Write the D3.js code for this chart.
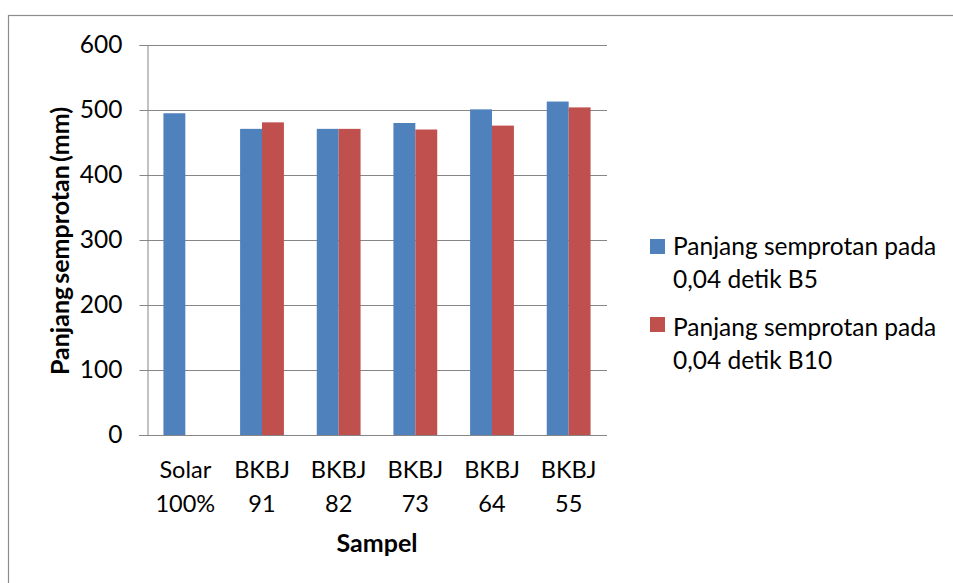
<!DOCTYPE html>
<html>
<head>
<meta charset="utf-8">
<script src="https://cdnjs.cloudflare.com/ajax/libs/d3/7.8.5/d3.min.js"></script>
<style>
  html, body { margin: 0; padding: 0; background: #fff; }
  svg { display: block; }
  text { font-family: Lato, "Open Sans", sans-serif; fill: #000; }
</style>
</head>
<body>
<script>
// Spray length per sample, two injection settings
const categories = [["Solar", "100%"], ["BKBJ", "91"], ["BKBJ", "82"], ["BKBJ", "73"], ["BKBJ", "64"], ["BKBJ", "55"]];
const seriesNames = ["Panjang semprotan pada 0,04 detik B5", "Panjang semprotan pada 0,04 detik B10"];
const legendLines = [["Panjang semprotan pada", "0,04 detik B5"], ["Panjang semprotan pada", "0,04 detik B10"]];
const valuesB5 = [495, 471, 471, 480, 501, 513];
const valuesB10 = [null, 481, 471, 470, 476, 504];
const yTicks = [0, 100, 200, 300, 400, 500, 600];
const colors = ["#4F81BD", "#C0504D"];

const W = 953, H = 583;
const plot = { left: 147, right: 607, top: 45, bottom: 435 };

const svg = d3.select("body").append("svg").attr("width", W).attr("height", H);

// outer chart frame
svg.append("rect")
  .attr("x", 8.5).attr("y", 15.5)
  .attr("width", W + 10).attr("height", H + 10)
  .attr("fill", "none").attr("stroke", "#8c8c8c").attr("stroke-width", 1.2);

const x0 = d3.scaleBand().domain(d3.range(categories.length))
  .range([plot.left, plot.right]).paddingInner(0).paddingOuter(0);
const bw = x0.bandwidth() / 3.5; // 150% gap width
const y = d3.scaleLinear().domain([0, 600]).range([plot.bottom, plot.top]);

// gridlines
svg.append("g").selectAll("line").data(yTicks.filter(t => t > 0)).join("line")
  .attr("x1", plot.left).attr("x2", plot.right)
  .attr("y1", d => Math.round(y(d)) + 0.5).attr("y2", d => Math.round(y(d)) + 0.5)
  .attr("stroke", "#868686").attr("stroke-width", 1);

// bars
const series = [valuesB5, valuesB10];
series.forEach((vals, si) => {
  svg.append("g").selectAll("rect")
    .data(vals.map((v, i) => ({ v, i })).filter(d => d.v != null))
    .join("rect")
    .attr("x", d => x0(d.i) + x0.bandwidth() / 2 - bw + si * bw)
    .attr("width", bw)
    .attr("y", d => y(d.v))
    .attr("height", d => y(0) - y(d.v))
    .attr("fill", colors[si]);
});

// y axis
const yAxis = d3.axisLeft(y).tickValues(yTicks).tickSize(8).tickPadding(17).tickFormat(d3.format("d"));
const gy = svg.append("g").attr("transform", `translate(${plot.left + 0.5},0)`).call(yAxis);
gy.select(".domain").attr("stroke", "#868686");
gy.selectAll(".tick line").attr("stroke", "#868686");
gy.selectAll(".tick text").attr("font-size", 24.5).attr("font-family", "Lato");

// x axis baseline
const xAxis = d3.axisBottom(x0).tickSize(0).tickFormat(() => "");
const gx = svg.append("g").attr("transform", `translate(0,${Math.round(y(0)) + 0.5})`).call(xAxis);
gx.select(".domain").attr("stroke", "#868686").attr("d", `M${plot.left - 8},0H${plot.right}`);

// category labels, two lines each
const catG = svg.append("g");
categories.forEach((c, i) => {
  const t = catG.append("text")
    .attr("x", x0(i) + x0.bandwidth() / 2)
    .attr("text-anchor", "middle").attr("font-size", 23.5);
  c.forEach((line, li) => {
    t.append("tspan").attr("x", x0(i) + x0.bandwidth() / 2).attr("y", 478 + li * 34).text(line);
  });
});

// axis titles
svg.append("text")
  .attr("x", (plot.left + plot.right) / 2).attr("y", 552)
  .attr("text-anchor", "middle").attr("font-size", 25).attr("font-weight", "bold")
  .text("Sampel");
svg.append("text")
  .attr("transform", `translate(69,${(plot.top + plot.bottom) / 2 + 1}) rotate(-90)`)
  .attr("text-anchor", "middle").attr("font-size", 25).attr("font-weight", "bold")
  .attr("word-spacing", -3)
  .text("Panjang semprotan (mm)");

// legend
const legend = svg.append("g");
const legendTop = [239, 317];
const legendBase = [255, 336];
seriesNames.forEach((name, i) => {
  legend.append("rect").attr("x", 650).attr("y", legendTop[i]).attr("width", 15).attr("height", 15).attr("fill", colors[i]);
  const t = legend.append("text").attr("font-size", 24.5);
  legendLines[i].forEach((line, li) => {
    t.append("tspan").attr("x", 673).attr("y", legendBase[i] + li * 33).text(line);
  });
});
</script>
</body>
</html>
